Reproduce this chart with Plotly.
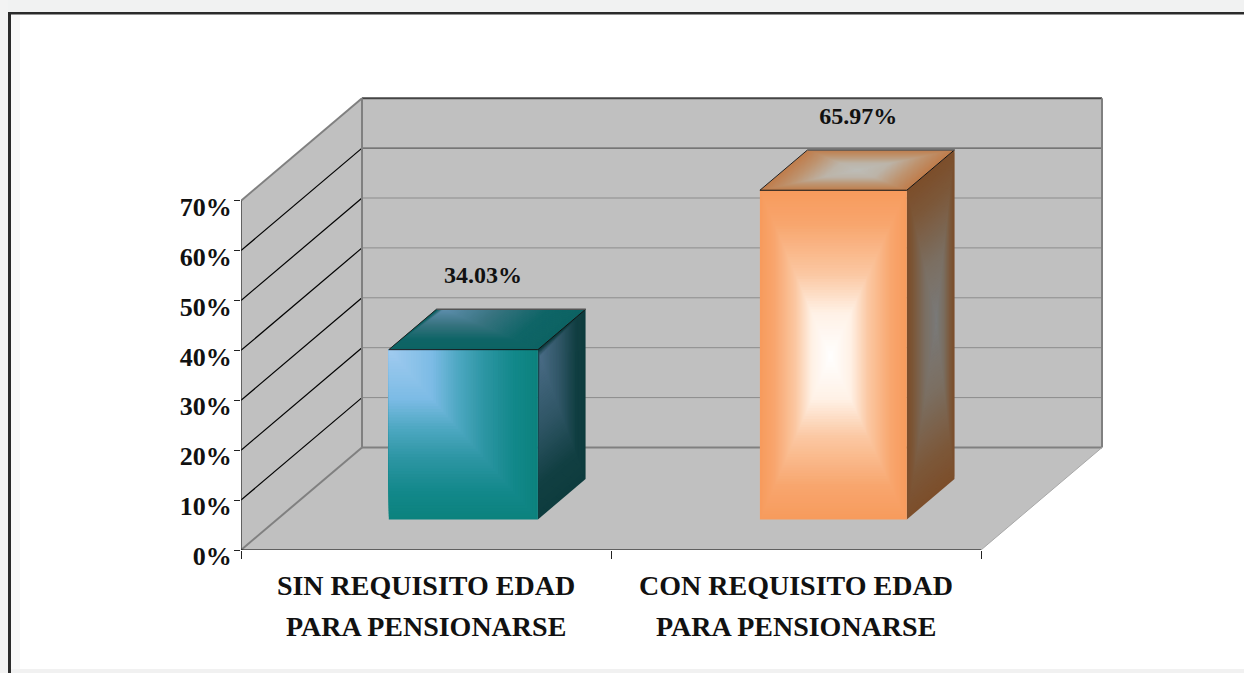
import plotly.graph_objects as go

# ---- data ----
line1 = ["SIN REQUISITO EDAD", "CON REQUISITO EDAD"]
line2 = ["PARA PENSIONARSE", "PARA PENSIONARSE"]
values = [34.03, 65.97]
y_ticks = [0, 10, 20, 30, 40, 50, 60, 70]
x_edges = [0, 1, 2]
x_centers = [0.5, 1.5]

# ---- layout constants ----
W, H = 1244, 673
ML, MB = 241, 123
PX_CAT, PX_PCT = 370.0, 4.99
DX, DY = 121 / PX_CAT, 102.5 / PX_PCT   # depth vector in axis units
NEAR, FAR = 0.298, 0.692
BAR_L = [0.302, 1.305]
BAR_R = [0.705, 1.702]
LABEL_NUDGE = [-0.011, 0.003]
FONT = "Liberation Serif"
GREY = "#C0C0C0"
STEPS = 60

TEAL_FRONT = [(0, "#A2CCF0"), (.3, "#7CBBE5"), (.47, "#4EA8C2"), (.65, "#2C95A3"), (.85, "#12888A"), (1, "#0C827E")]
TEAL_TOP = [(0, "#5F8FAE"), (.4, "#37737F"), (.75, "#0F6567"), (1, "#0D6363")]
TEAL_SIDE = [(0, "#4A6C86"), (.45, "#2F5565"), (.8, "#113F42"), (1, "#0E3C3E")]
ORANGE_FRONT = [(0, "#FFFFFF"), (.27, "#FFF1E6"), (.5, "#FBC8A3"), (.8, "#F8A66E"), (1, "#F79B5D")]
ORANGE_TOP = [(0, "#BDBDB8"), (.35, "#BCB4A8"), (.7, "#BE9470"), (1, "#BF7D4C")]
ORANGE_SIDE = [(0, "#7A7A7A"), (.4, "#7B6F62"), (.8, "#7C5738"), (1, "#7C4E2B")]


def pr(x, y, d=0.0):
    return x + d * DX, y + d * DY


def mix(stops, t):
    for (t0, c0), (t1, c1) in zip(stops, stops[1:]):
        if t <= t1:
            f = (t - t0) / (t1 - t0)
            rgb = [round(int(c0[i:i + 2], 16) * (1 - f) + int(c1[i:i + 2], 16) * f) for i in (1, 3, 5)]
            return "rgb(%d,%d,%d)" % tuple(rgb)
    return stops[-1][1]


fig = go.Figure()


def poly(pts, color):
    xs = [p[0] for p in pts] + [pts[0][0]]
    ys = [p[1] for p in pts] + [pts[0][1]]
    fig.add_trace(go.Scatter(x=xs, y=ys, mode="lines", fill="toself", fillcolor=color,
                             line=dict(width=0, color=color), hoverinfo="skip", showlegend=False,
                             cliponaxis=False))


def seg(a, b, color, width=1):
    fig.add_trace(go.Scatter(x=[a[0], b[0]], y=[a[1], b[1]], mode="lines",
                             line=dict(color=color, width=width), hoverinfo="skip", showlegend=False,
                             cliponaxis=False))


def gradient(corners, u, v, stops):
    # nested copies of a face shrinking to the point (u, v) of that face
    a, b, c, d = corners   # a=top-left, b=top-right, c=bottom-right, d=bottom-left
    top = (a[0] + (b[0] - a[0]) * u, a[1] + (b[1] - a[1]) * u)
    bot = (d[0] + (c[0] - d[0]) * u, d[1] + (c[1] - d[1]) * u)
    ctr = (top[0] + (bot[0] - top[0]) * v, top[1] + (bot[1] - top[1]) * v)
    for i in range(STEPS, 0, -1):
        t = i / STEPS
        pts = [(ctr[0] + (p[0] - ctr[0]) * t, ctr[1] + (p[1] - ctr[1]) * t) for p in corners]
        poly(pts, mix(stops, t))


# walls and floor
x0, x1 = x_edges[0], x_edges[-1]
ymax = y_ticks[-1]
poly([pr(x0, 0), pr(x0, 0, 1), pr(x0, ymax, 1), pr(x0, ymax)], GREY)
poly([pr(x0, 0, 1), pr(x1, 0, 1), pr(x1, ymax, 1), pr(x0, ymax, 1)], GREY)
poly([pr(x0, 0), pr(x1, 0), pr(x1, 0, 1), pr(x0, 0, 1)], GREY)

for v in y_ticks[1:]:
    top = v == ymax
    side_col = "#808080" if top else "#000000"
    seg(pr(x0, v), pr(x0, v, 1), side_col, 2 if top else 1.2)
    back_col = "#444444" if v >= 60 else "#8C8C8C"
    seg(pr(x0, v, 1), pr(x1, v, 1), back_col, 2 if top else 1)
seg(pr(x0, 0), pr(x0, 0, 1), "#808080", 2)
seg(pr(x0, 0, 1), pr(x1, 0, 1), "#808080", 2)
seg(pr(x0, 0, 1), pr(x0, ymax, 1), "#808080", 2)
seg(pr(x1, 0, 1), pr(x1, ymax, 1), "#808080", 2)
seg(pr(x1, 0), pr(x1, 0, 1), "#A8A8A8", 1)
seg(pr(x0, 0), pr(x1, 0), "#000000", 1)
seg(pr(x0, 0), pr(x0, ymax), "#222222", 1.2)

# bars
faces = [
    (TEAL_FRONT, (0.0, 0.0), TEAL_TOP, (0.05, 0.0), TEAL_SIDE, (0.05, 0.05)),
    (ORANGE_FRONT, (0.48, 0.505), ORANGE_TOP, (0.5, 0.5), ORANGE_SIDE, (0.62, 0.47)),
]
for k, val in enumerate(values):
    L, R = BAR_L[k], BAR_R[k]
    fs, fc, ts, tc, ss, sc = faces[k]
    front = [pr(L, val, NEAR), pr(R, val, NEAR), pr(R, 0, NEAR), pr(L, 0, NEAR)]
    top = [pr(L, val, FAR), pr(R, val, FAR), pr(R, val, NEAR), pr(L, val, NEAR)]
    side = [pr(R, val, NEAR), pr(R, val, FAR), pr(R, 0, FAR), pr(R, 0, NEAR)]
    gradient(side, sc[0], sc[1], ss)
    gradient(top, tc[0], tc[1], ts)
    gradient(front, fc[0], fc[1], fs)
    seg(top[3], top[2], "#111111", 1)
    seg(top[3], top[0], "#222222", 1)
    seg(top[2], top[1], "#111111", 1)
    seg(top[0], top[1], "#555555", 1.5)

# value labels
mid = (NEAR + FAR) / 2
fig.add_trace(go.Scatter(
    x=[(BAR_L[k] + BAR_R[k]) / 2 + mid * DX + LABEL_NUDGE[k] for k in range(2)],
    y=[v + mid * DY + 10.5 for v in values],
    mode="text", text=["%.2f%%" % v for v in values], textposition="middle center",
    textfont=dict(family=FONT, size=24, color="#111111"),
    texttemplate="<b>%{text}</b>", hoverinfo="skip", showlegend=False, cliponaxis=False))

for xc, t in zip(x_centers, line2):
    fig.add_annotation(x=xc, y=0, xref="x", yref="y", text="<b>%s</b>" % t, showarrow=False,
                       yanchor="middle", xanchor="center", yshift=-76,
                       font=dict(family=FONT, size=28, color="#111111"))


def pxx(p):
    return (p - ML) / (W - ML)


def pxy(p):
    return ((H - MB) - p) / (H - MB)


def rect(x_a, y_a, x_b, y_b, col):
    return dict(type="rect", xref="paper", yref="paper", x0=pxx(x_a), x1=pxx(x_b), y0=pxy(y_a), y1=pxy(y_b),
                fillcolor=col, line_width=0, layer="below")


shapes = [
    rect(0, 0, W, 12, "#F1F2F2"),
    rect(0, 0, 8, H, "#F3F3F3"),
    rect(10, 14, 20, H, "#F8F8F8"),
    rect(10, 669, W, H, "#F1F1F1"),
    rect(8, 12, 11, H, "#2B2B2B"),
    rect(8, 12, W, 14.5, "#2B2B2B"),
]

fig.update_layout(
    width=W, height=H, autosize=False,
    margin=dict(l=ML, r=0, t=0, b=MB, pad=0),
    paper_bgcolor="#FFFFFF", plot_bgcolor="rgba(0,0,0,0)",
    showlegend=False, shapes=shapes, hovermode=False,
    xaxis=dict(range=[0, (W - ML) / PX_CAT], tickmode="array", tickvals=x_centers,
               ticktext=["<b>%s</b>" % t for t in line1], ticks="", showgrid=False, zeroline=False,
               showline=False, tickfont=dict(family=FONT, size=28, color="#111111"),
               ticklabelstandoff=16,
               minor=dict(tickmode="array", tickvals=x_edges, ticks="outside", ticklen=8, tickcolor="#222222",
                          tickwidth=1, showgrid=False)),
    yaxis=dict(range=[0, (H - MB) / PX_PCT], tickmode="array", tickvals=y_ticks,
               ticktext=["<b>%d%%</b>" % v for v in y_ticks], ticks="outside", ticklen=6,
               tickcolor="#222222", tickwidth=1, showgrid=False, zeroline=False, showline=False,
               ticklabelstandoff=-3, ticklabelshift=6,
               tickfont=dict(family=FONT, size=26, color="#111111")),
)

fig.write_html("out.html", config={"displayModeBar": False},
               post_script="document.body.style.margin='0';document.body.style.overflow='hidden';")
